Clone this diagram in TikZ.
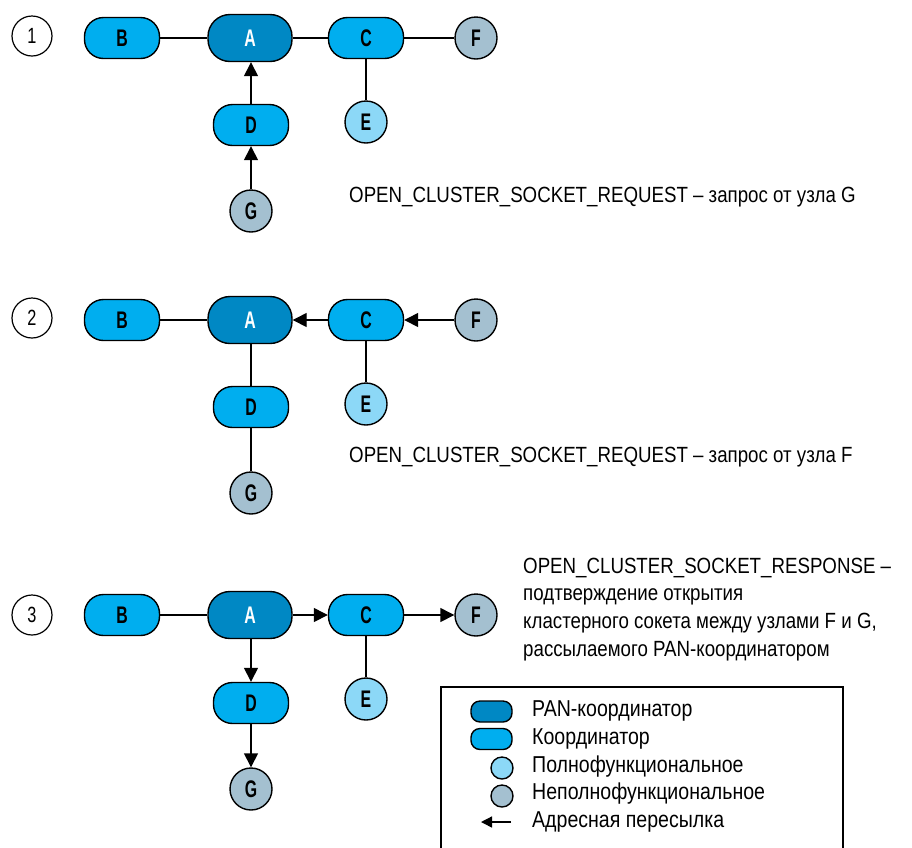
\documentclass[tikz,border=0pt]{standalone}
\usepackage{fontspec}
\setmainfont{Liberation Sans}[FakeStretch=0.85]
\newfontfamily\nodefont{Liberation Sans}[FakeStretch=0.66]
\newfontfamily\numfont{Liberation Sans}[FakeStretch=0.74]
\usetikzlibrary{arrows.meta}
\definecolor{pancol}{RGB}{0,136,196}
\definecolor{coordcol}{RGB}{0,174,239}
\definecolor{ffdcol}{RGB}{140,216,247}
\definecolor{rfdcol}{RGB}{164,192,208}
\begin{document}
\begin{tikzpicture}[x=1pt,y=-1pt,
  base/.style={draw=black, line width=1.4pt, inner sep=0pt,
    font=\nodefont\fontsize{24}{24}\selectfont\bfseries},
  pan/.style={base, fill=pancol, minimum width=84pt, minimum height=47pt,
    rounded corners=22pt, text=white},
  coordn/.style={base, fill=coordcol, minimum width=75pt, minimum height=41pt,
    rounded corners=19pt},
  ffd/.style={base, circle, fill=ffdcol, minimum size=42pt},
  rfd/.style={base, circle, fill=rfdcol, minimum size=42pt},
  numc/.style={draw=black, line width=1.2pt, circle, fill=white,
    minimum size=40pt, inner sep=0pt, font=\numfont\fontsize{22}{22}\selectfont},
  link/.style={draw=black, line width=1.4pt},
  fwd/.style={link, -{Triangle[length=14pt,width=14pt]}},
  msg/.style={anchor=base west, inner sep=0pt, font=\fontsize{22}{22}\selectfont},
  lgbox/.style={draw=black, line width=2pt},
  lgtext/.style={anchor=base west, inner sep=0pt, font=\fontsize{23}{23}\selectfont},
  lpan/.style={base, fill=pancol, minimum width=41pt, minimum height=21pt, rounded corners=9pt},
  lcoord/.style={base, fill=coordcol, minimum width=41pt, minimum height=21pt, rounded corners=9pt},
  lffd/.style={base, circle, fill=ffdcol, minimum size=22pt},
  lrfd/.style={base, circle, fill=rfdcol, minimum size=22pt}
]
\useasboundingbox (0,0) rectangle (912,847);

% ---- step 1: request from G ----
\node[numc] (n1) at (32,36) {1};
\node[coordn] (B1) at (122,38) {B};
\node[pan]    (A1) at (250,38) {A};
\node[coordn] (C1) at (366,38) {C};
\node[rfd]    (F1) at (476,38) {F};
\node[ffd]    (E1) at (366,122) {E};
\node[coordn] (D1) at (251,125) {D};
\node[rfd]    (G1) at (251,211) {G};
\draw[link] (B1) -- (A1);
\draw[link] (A1) -- (C1);
\draw[link] (C1) -- (F1);
\draw[link] (C1) -- (E1);
\draw[fwd] (D1.north) -- (D1.north |- A1.south);
\draw[fwd] (G1) -- (D1);
\node[msg] (t1) at (349,202) {OPEN\_CLUSTER\_SOCKET\_REQUEST – запрос от узла G};

% ---- step 2: request from F ----
\node[numc] (n2) at (32,318) {2};
\node[coordn] (B2) at (122,320) {B};
\node[pan]    (A2) at (250,320) {A};
\node[coordn] (C2) at (366,320) {C};
\node[rfd]    (F2) at (476,320) {F};
\node[ffd]    (E2) at (366,404) {E};
\node[coordn] (D2) at (251,407) {D};
\node[rfd]    (G2) at (251,493) {G};
\draw[link] (B2) -- (A2);
\draw[fwd] (C2) -- (A2);
\draw[fwd] (F2) -- (C2);
\draw[link] (C2) -- (E2);
\draw[link] (D2.north) -- (D2.north |- A2.south);
\draw[link] (G2) -- (D2);
\node[msg] (t2) at (349,462) {OPEN\_CLUSTER\_SOCKET\_REQUEST – запрос от узла F};

% ---- step 3: response from the PAN coordinator ----
\node[numc] (n3) at (32,615) {3};
\node[coordn] (B3) at (122,615) {B};
\node[pan]    (A3) at (250,615) {A};
\node[coordn] (C3) at (366,615) {C};
\node[rfd]    (F3) at (476,615) {F};
\node[ffd]    (E3) at (366,699) {E};
\node[coordn] (D3) at (251,703) {D};
\node[rfd]    (G3) at (251,789) {G};
\draw[link] (B3) -- (A3);
\draw[fwd] (A3) -- (C3);
\draw[fwd] (C3) -- (F3);
\draw[link] (C3) -- (E3);
\draw[fwd] (D3.north |- A3.south) -- (D3.north);
\draw[fwd] (D3) -- (G3);
\node[msg] (t3a) at (523,573) {OPEN\_CLUSTER\_SOCKET\_RESPONSE –};
\node[msg] (t3b) at (523,600.7) {подтверждение открытия};
\node[msg] (t3c) at (523,628.4) {кластерного сокета между узлами F и G,};
\node[msg] (t3d) at (523,656) {рассылаемого PAN-координатором};

% ---- legend ----
\draw[lgbox] (441,687) rectangle (843,870);
\node[lpan]   (L1) at (491.5,711.5) {};
\node[lcoord] (L2) at (491.5,739) {};
\node[lffd]   (L3) at (502,768) {};
\node[lrfd]   (L4) at (502,796) {};
\coordinate (L5a) at (511,822);
\coordinate (L5b) at (481,822);
\draw[link, -{Triangle[length=11pt,width=11pt]}] (L5a) -- (L5b);
\node[lgtext] at (532,716) {PAN-координатор};
\node[lgtext] at (532,744) {Координатор};
\node[lgtext] at (532,772) {Полнофункциональное};
\node[lgtext] at (532,799.5) {Неполнофункциональное};
\node[lgtext] at (532,827) {Адресная пересылка};
\end{tikzpicture}
\end{document}
